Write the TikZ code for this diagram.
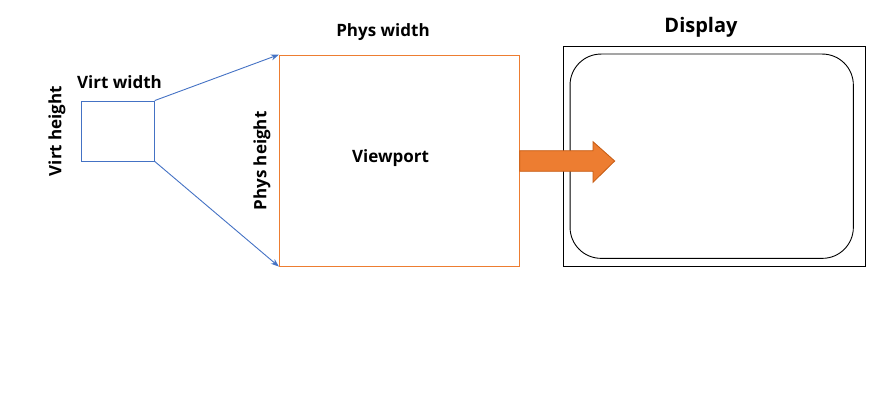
\documentclass[tikz,border=0pt]{standalone}
\usepackage{fontspec}
\setmainfont{Open Sans}
\usetikzlibrary{arrows.meta}
\definecolor{blueln}{HTML}{4472C4}
\definecolor{orng}{HTML}{ED7D31}
\definecolor{orngdk}{HTML}{C55A11}
\begin{document}
\begin{tikzpicture}[x=1pt,y=-1pt,
  lbl/.style={font=\bfseries\fontsize{17}{20}\selectfont, inner sep=0pt},
  zoomln/.style={draw=blueln, line width=0.9pt, -{Stealth[length=8pt,width=6pt]}},
  box/.style={draw, rectangle, inner sep=0pt, line width=0.9pt}]
\useasboundingbox (0,0) rectangle (896,412);
\node[box, draw=blueln, minimum width=73pt, minimum height=60pt] (virt) at (117.8,131) {};
\node[box, draw=orng, minimum width=240pt, minimum height=211pt] (vp) at (399.3,160.6) {};
\node[lbl] (vplbl) at (390.5,158) {Viewport};
\node[lbl] (vw) at (119.5,82) {Virt width};
\node[lbl, rotate=90] (vh) at (57,131) {Virt height};
\node[lbl] (pw) at (383,32) {Phys width};
\node[lbl, rotate=90] (ph) at (262,161) {Phys height};
\node[font=\bfseries\fontsize{20}{24}\selectfont, inner sep=0pt] (disp) at (701,27) {Display};
\node[box, draw=black, minimum width=301.7pt, minimum height=219.3pt] (dout) at (714.2,156.4) {};
\node[box, draw=black, rounded corners=31pt, minimum width=283.3pt, minimum height=204.3pt] (din) at (711.7,156.2) {};
\draw[zoomln] (virt.north east) -- (vp.north west);
\draw[zoomln] (virt.south east) -- (vp.south west);
\draw[fill=orng, draw=orngdk, line width=0.8pt, line join=miter]
  (vp.east |- 0,150.7) -- (593,150.7) -- (593,141.7) -- (614.7,161) -- (593,182.3) -- (593,171.3) -- (vp.east |- 0,171.3) -- cycle;
\end{tikzpicture}
\end{document}
